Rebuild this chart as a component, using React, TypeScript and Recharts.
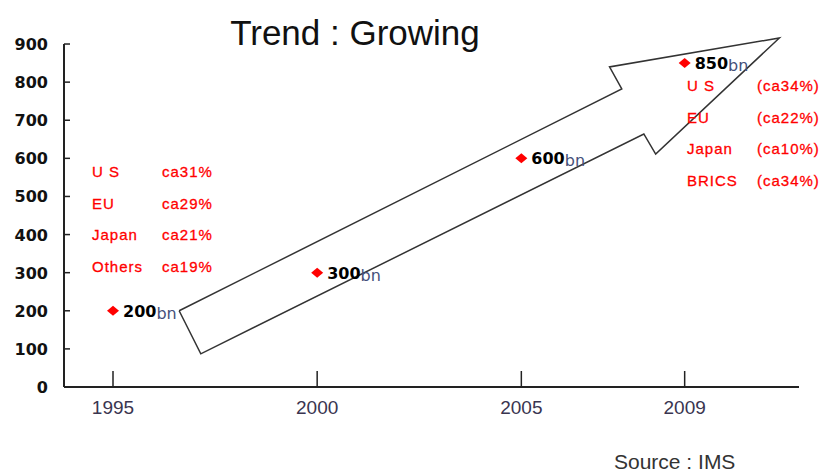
import React from 'react';
import { ScatterChart, Scatter, XAxis, YAxis, ReferenceLine } from 'recharts';

// market size in bn per year
const years = [1995, 2000, 2005, 2009];
const marketSize = [200, 300, 600, 850];
const yTicks = [0, 100, 200, 300, 400, 500, 600, 700, 800, 900];

// regional shares written next to the first and last point
const shares1995 = [
  { region: 'U S', share: 'ca31%' },
  { region: 'EU', share: 'ca29%' },
  { region: 'Japan', share: 'ca21%' },
  { region: 'Others', share: 'ca19%' },
];
const shares2009 = [
  { region: 'U S', share: '(ca34%)' },
  { region: 'EU', share: '(ca22%)' },
  { region: 'Japan', share: '(ca10%)' },
  { region: 'BRICS', share: '(ca34%)' },
];

// outline of the big trend arrow, in chart units (year, value)
const arrowYears = [1996.62, 2007.46, 2007.16, 2011.32, 2008.29, 2008.0, 1997.15, 1996.62];
const arrowValues = [200, 782, 840, 916, 611, 664, 87, 200];

const X_MIN = 1993.8;
const X_MAX = 2011.8;

const pointData = years.map((year, i) => ({ year, value: marketSize[i] }));
const arrowData = arrowYears.map((year, i) => ({ year, value: arrowValues[i] }));

const YTick = (props: any) => {
  const { x, y, payload } = props;
  return (
    <g>
      <line x1={x} x2={x + 6} y1={y} y2={y} stroke="#222" strokeWidth={1.5} />
      <text x={x - 16} y={y + 6} textAnchor="end" fontFamily="DejaVu Sans" fontWeight="bold" fontSize={16} fill="#111">
        {payload.value}
      </text>
    </g>
  );
};

const XTick = (props: any) => {
  const { x, y, payload } = props;
  return (
    <g>
      <line x1={x} x2={x} y1={y} y2={y - 16} stroke="#222" strokeWidth={1.5} />
      <text x={x} y={y + 27} textAnchor="middle" fontFamily="Liberation Sans" fontSize={19} fill="#3a3550">
        {payload.value}
      </text>
    </g>
  );
};

const PointShape = (props: any) => {
  const { cx, cy, payload } = props;
  return (
    <g>
      <polygon points={`${cx - 6},${cy} ${cx},${cy - 5} ${cx + 6},${cy} ${cx},${cy + 5}`} fill="#ff0000" />
      <text x={cx + 10} y={cy + 6} fontFamily="DejaVu Sans" fontSize={16}>
        <tspan fontWeight="bold" fill="#000">{payload.value}</tspan>
        <tspan fill="#45507a" dy={2}>bn</tspan>
      </text>
    </g>
  );
};

const NoShape = () => <g />;

const ShareBlock = ({ rows, x1, x2, y0 }: { rows: { region: string; share: string }[]; x1: number; x2: number; y0: number }) => (
  <g fontFamily="Liberation Sans" fontSize={15} fill="#ff0000" stroke="#ff0000" strokeWidth={0.3} letterSpacing={1}>
    {rows.map((r, i) => (
      <g key={r.region}>
        <text x={x1} y={y0 + i * 31.5}>{r.region}</text>
        <text x={x2} y={y0 + i * 31.5}>{r.share}</text>
      </g>
    ))}
  </g>
);

export default function App() {
  return (
    <div style={{ position: 'absolute', left: 0, top: 0, width: 824, height: 476, background: '#fff' }}>
      <ScatterChart width={824} height={476} margin={{ top: 36.4, right: 25, bottom: 59, left: 0 }}>
        <XAxis
          type="number"
          dataKey="year"
          domain={[X_MIN, X_MAX]}
          ticks={years}
          height={30}
          tickSize={0}
          tickMargin={0}
          tick={<XTick />}
          axisLine={{ stroke: '#222', strokeWidth: 2 }}
        />
        <YAxis
          type="number"
          dataKey="value"
          domain={[0, 920]}
          ticks={yTicks}
          width={64}
          tickSize={0}
          tickMargin={0}
          tick={<YTick />}
          axisLine={false}
        />
        <ReferenceLine
          segment={[{ x: X_MIN, y: 0 }, { x: X_MIN, y: 900 }]}
          stroke="#222"
          strokeWidth={2}
        />
        <Scatter
          data={arrowData}
          line={{ stroke: '#333', strokeWidth: 1.5 }}
          lineType="joint"
          shape={<NoShape />}
          isAnimationActive={false}
        />
        <Scatter data={pointData} shape={<PointShape />} isAnimationActive={false} />
      </ScatterChart>
      <svg width={824} height={476} style={{ position: 'absolute', left: 0, top: 0, pointerEvents: 'none' }}>
        <text x={355} y={45} textAnchor="middle" fontFamily="Liberation Sans" fontSize={35} fill="#111">
          Trend : Growing
        </text>
        <ShareBlock rows={shares1995} x1={92} x2={162} y0={177} />
        <ShareBlock rows={shares2009} x1={687} x2={757} y0={91} />
        <text x={614} y={469} fontFamily="Liberation Sans" fontSize={21} fill="#333">
          Source : IMS
        </text>
      </svg>
    </div>
  );
}
